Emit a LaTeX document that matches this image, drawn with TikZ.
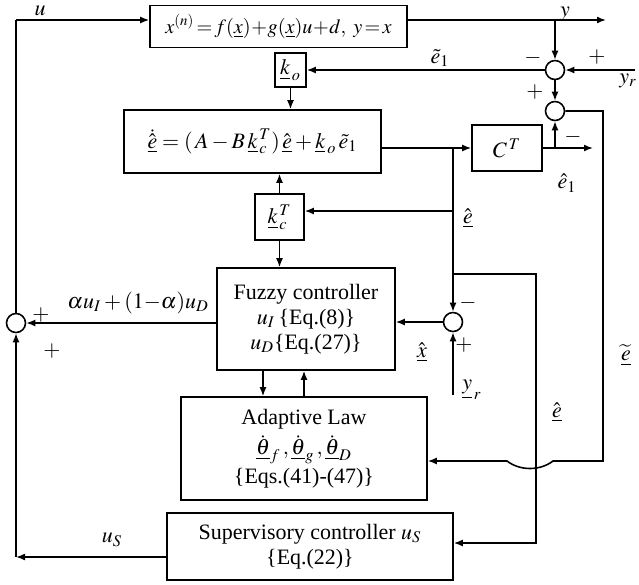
\documentclass[tikz,border=0pt]{standalone}
\usepackage{mathptmx}
\usepackage{fontspec}
\setmainfont{Liberation Serif}
\usetikzlibrary{arrows.meta,calc}

\begin{document}
\begin{tikzpicture}[
  blk/.style={draw, line width=0.9pt, align=center, inner sep=2pt, font=\fontsize{12.5}{14.2}\selectfont},
  sum/.style={draw, circle, line width=0.9pt, minimum size=0.38cm, inner sep=0pt},
  arrow/.style={-{Latex[length=1.8mm,width=1.4mm]}, line width=0.9pt},
  line/.style={line width=0.9pt},
  lbl/.style={font=\fontsize{12.5}{14}\selectfont, inner sep=1pt}
]
\useasboundingbox (0,0) rectangle (12.78,-11.68);

% blocks
\node[blk, minimum width=5.14cm, minimum height=0.84cm, font=\fontsize{11.5}{13}\selectfont] (plant) at (5.57,-0.53) {$x^{(n)}\!=\!f(\underline{x})\!+\!g(\underline{x})u\!+\!d,\ y\!=\!x$};
\node[blk, minimum width=0.62cm, minimum height=0.68cm] (ko) at (5.81,-1.40) {$\underline{k}_{\,o}$};
\node[blk, minimum width=5.14cm, minimum height=1.26cm] (obs) at (5.05,-2.83) {$\dot{\hat{\underline{e}}} = (\,A - B\,\underline{k}_{\,c}^{\,T})\,\hat{\underline{e}} + \underline{k}_{\,o}\,\tilde{e}_1$};
\node[blk, minimum width=1.40cm, minimum height=0.92cm] (ct) at (10.14,-2.96) {$C^{\,T}$};
\node[blk, minimum width=0.98cm, minimum height=0.92cm] (kc) at (5.59,-4.34) {$\underline{k}_{\,c}^{\,T}$};
\node[blk, minimum width=3.56cm, minimum height=2.04cm] (fz) at (6.12,-6.38) {Fuzzy controller\\ $u_I$\,\{Eq.(8)\}\\ $u_D$\{Eq.(27)\}};
\node[blk, minimum width=4.92cm, minimum height=2.06cm] (adp) at (6.08,-8.97) {Adaptive Law\\[3pt] $\dot{\underline{\theta}}_f\,,\dot{\underline{\theta}}_g\,,\dot{\underline{\theta}}_D$\\[2pt] \{Eqs.(41)-(47)\}};
\node[blk, minimum width=5.72cm, minimum height=1.34cm] (sup) at (6.20,-10.93) {Supervisory controller $u_S$\\ \{Eq.(22)\}};

% summing junctions
\node[sum] (s1) at (11.10,-1.40) {};
\node[sum] (s2) at (11.10,-2.22) {};
\node[sum] (s3) at (9.06,-6.44) {};
\node[sum] (s4) at (0.32,-6.46) {};

% corners and taps
\coordinate (uin) at (0.32,-0.40);
\coordinate (ytap) at (11.10,-0.40);
\coordinate (yend) at (12.12,-0.40);
\coordinate (yr) at (12.70,-1.40);
\coordinate (cttap) at (11.10,-2.96);
\coordinate (ctend) at (11.86,-2.96);
\coordinate (etap) at (9.06,-2.96);
\coordinate (ehat) at (9.06,-4.22);
\coordinate (xtap) at (9.06,-5.48);
\coordinate (xr) at (10.72,-5.48);
\coordinate (xs) at (10.72,-10.86);
\coordinate (yrb) at (9.06,-7.90);
\coordinate (er) at (12.06,-2.22);
\coordinate (eb) at (12.06,-9.22);
\coordinate (j1) at (11.06,-9.22);
\coordinate (j2) at (10.14,-9.22);
\coordinate (us) at (0.32,-11.14);
\coordinate (fa) at (5.26,0);
\coordinate (af) at (6.08,0);

% connectors
\draw[line] (s4.north) -- (uin);
\draw[arrow] (uin) -- (uin -| plant.west);
\draw[arrow] (ytap -| plant.east) -- (yend);
\draw[arrow] (ytap) -- (s1.north);
\draw[arrow] (yr) -- (s1.east);
\draw[arrow] (s1.west) -- (ko.east);
\draw[arrow] (ko.south) -- (ko.south |- obs.north);
\draw[arrow] (s1.south) -- (s2.north);
\draw[arrow] (obs.east |- ct) -- (ct.west);
\draw[arrow] (ct.east) -- (ctend);
\draw[arrow] (cttap) -- (s2.south);
\draw[line] (etap) -- (ehat) -- (xtap);
\draw[arrow] (xtap) -- (s3.north);
\draw[arrow] (ehat) -- (ehat -| kc.east);
\draw[arrow] (kc.north) -- (kc.north |- obs.south);
\draw[arrow] (kc.south) -- (kc.south |- fz.north);
\draw[arrow] (xtap) -- (xr) -- (xs) -- (xs -| sup.east);
\draw[arrow] (yrb) -- (s3.south);
\draw[arrow] (s3.west) -- (s3.west -| fz.east);
\draw[arrow] (fz.west |- s4) -- (s4.east);
\draw[arrow] (fa |- fz.south) -- (fa |- adp.north);
\draw[arrow] (af |- adp.north) -- (af |- fz.south);
\draw[arrow] (us -| sup.west) -- (us);
\draw[arrow] (us) -- (s4.south);
\draw[arrow] (s2.east) -- (er) -- (eb) -- (j1) .. controls (10.8,-9.42) and (10.4,-9.42) .. (j2) -- (j2 -| adp.east);

% labels
\node[lbl] (lu) at (0.80,-0.22) {$u$};
\node[lbl] (ly) at (11.30,-0.27) {$y$};
\node[lbl] (lm1) at (10.66,-1.16) {$-$};
\node[lbl] (lp1) at (11.94,-1.14) {$+$};
\node[lbl] (lyr) at (12.56,-1.62) {$y_r$};
\node[lbl] (le1) at (8.80,-1.16) {$\tilde{e}_1$};
\node[lbl] (lp2) at (10.70,-1.84) {$+$};
\node[lbl] (lm2) at (11.46,-2.74) {$-$};
\node[lbl] (le1h) at (11.34,-3.66) {$\hat{e}_1$};
\node[lbl] (lehat) at (9.36,-4.36) {$\hat{\underline{e}}$};
\node[lbl] (lm3) at (9.36,-6.06) {$-$};
\node[lbl] (lp3) at (9.28,-6.90) {$+$};
\node[lbl] (lxhat) at (8.44,-7.04) {$\hat{\underline{x}}$};
\node[lbl] (lyr2) at (9.44,-7.80) {$\underline{y}_{\,r}$};
\node[lbl] (letil) at (12.52,-7.10) {$\widetilde{\underline{e}}$};
\node[lbl] (lehat2) at (11.14,-8.24) {$\hat{\underline{e}}$};
\node[lbl] (lmix) at (2.76,-6.06) {$\alpha u_I + (1{-}\alpha)u_D$};
\node[lbl] (lp4) at (0.82,-6.30) {$+$};
\node[lbl] (lp5) at (1.04,-7.02) {$+$};
\node[lbl] (lus) at (2.24,-10.80) {$u_S$};
\end{tikzpicture}
\end{document}
